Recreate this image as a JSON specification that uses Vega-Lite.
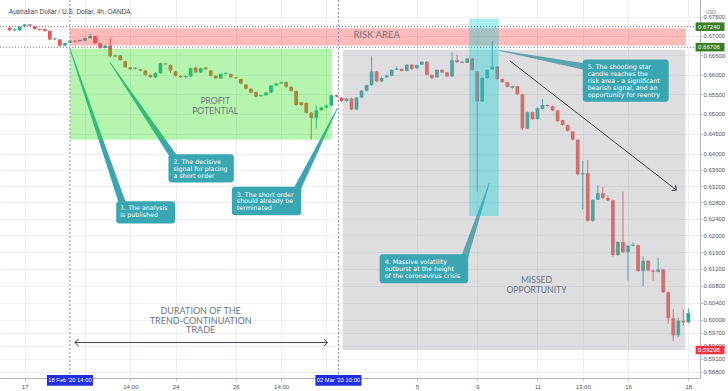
{
"$schema":"https://vega.github.io/schema/vega-lite/v6.json",
"width":700,"height":378,
"autosize":{"type":"none"},
"padding":{"left":0,"top":0,"right":28,"bottom":13},
"background":"#ffffff",
"config":{"view":{"stroke":null},
 "axis":{"labelFont":"Liberation Sans","labelFontSize":6,"labelColor":"#50535e","tickSize":2,"tickColor":"#b2b5be","domainColor":"#b2b5be","gridColor":"#eceff5","grid":true,"labelFlush":false,"labelOverlap":false}},
"datasets":{
"candles":[
{"i":-3,"o":0.67214,"h":0.67248,"l":0.67121,"c":0.67145},
{"i":-2,"o":0.67145,"h":0.67196,"l":0.67121,"c":0.67171},
{"i":-1,"o":0.67145,"h":0.67259,"l":0.67132,"c":0.67233},
{"i":0,"o":0.67247,"h":0.67312,"l":0.67237,"c":0.67297},
{"i":1,"o":0.67297,"h":0.67312,"l":0.67248,"c":0.67264},
{"i":2,"o":0.67247,"h":0.6727,"l":0.67163,"c":0.67178},
{"i":3,"o":0.67178,"h":0.67196,"l":0.67141,"c":0.67153},
{"i":4,"o":0.67174,"h":0.67196,"l":0.6711,"c":0.67128},
{"i":5,"o":0.67128,"h":0.67141,"l":0.66886,"c":0.66908},
{"i":6,"o":0.66908,"h":0.6695,"l":0.66886,"c":0.66933},
{"i":7,"o":0.66907,"h":0.66917,"l":0.66717,"c":0.66747},
{"i":8,"o":0.66747,"h":0.66823,"l":0.66728,"c":0.66808},
{"i":9,"o":0.66823,"h":0.66897,"l":0.66812,"c":0.66873},
{"i":10,"o":0.66873,"h":0.66886,"l":0.66833,"c":0.66848},
{"i":11,"o":0.66865,"h":0.66907,"l":0.66855,"c":0.66891},
{"i":12,"o":0.66873,"h":0.6696,"l":0.66865,"c":0.66941},
{"i":13,"o":0.66941,"h":0.6706,"l":0.66929,"c":0.66992},
{"i":14,"o":0.66992,"h":0.67003,"l":0.66791,"c":0.66808},
{"i":15,"o":0.66808,"h":0.66823,"l":0.66663,"c":0.66688},
{"i":16,"o":0.66688,"h":0.66759,"l":0.66674,"c":0.66747},
{"i":17,"o":0.66747,"h":0.66957,"l":0.66442,"c":0.66469},
{"i":18,"o":0.66469,"h":0.66511,"l":0.66452,"c":0.66495},
{"i":19,"o":0.66495,"h":0.66506,"l":0.66358,"c":0.66369},
{"i":20,"o":0.66345,"h":0.66358,"l":0.6617,"c":0.66186},
{"i":21,"o":0.66186,"h":0.66201,"l":0.66117,"c":0.66136},
{"i":22,"o":0.66149,"h":0.6619,"l":0.66128,"c":0.66175},
{"i":23,"o":0.66136,"h":0.66149,"l":0.66086,"c":0.66104},
{"i":24,"o":0.66104,"h":0.66117,"l":0.6597,"c":0.65993},
{"i":25,"o":0.65993,"h":0.66001,"l":0.65908,"c":0.65936},
{"i":26,"o":0.65929,"h":0.66054,"l":0.65908,"c":0.66036},
{"i":27,"o":0.66036,"h":0.66306,"l":0.66023,"c":0.66287},
{"i":28,"o":0.66287,"h":0.66306,"l":0.66243,"c":0.66261},
{"i":29,"o":0.66244,"h":0.66264,"l":0.66044,"c":0.66104},
{"i":30,"o":0.66079,"h":0.66096,"l":0.6595,"c":0.65968},
{"i":31,"o":0.65968,"h":0.6598,"l":0.65908,"c":0.65936},
{"i":32,"o":0.65939,"h":0.6598,"l":0.65897,"c":0.65965},
{"i":33,"o":0.65954,"h":0.6618,"l":0.65939,"c":0.66161},
{"i":34,"o":0.66179,"h":0.66201,"l":0.66044,"c":0.66054},
{"i":35,"o":0.66054,"h":0.6618,"l":0.66044,"c":0.66161},
{"i":36,"o":0.66179,"h":0.66201,"l":0.66117,"c":0.66136},
{"i":37,"o":0.66104,"h":0.66117,"l":0.6595,"c":0.65968},
{"i":38,"o":0.65968,"h":0.6598,"l":0.65887,"c":0.65904},
{"i":39,"o":0.65904,"h":0.66033,"l":0.65887,"c":0.66018},
{"i":40,"o":0.66018,"h":0.66054,"l":0.66002,"c":0.66044},
{"i":41,"o":0.66011,"h":0.66023,"l":0.65908,"c":0.65929},
{"i":42,"o":0.65929,"h":0.65939,"l":0.65887,"c":0.65904},
{"i":43,"o":0.65887,"h":0.65898,"l":0.65751,"c":0.6577},
{"i":44,"o":0.65745,"h":0.65761,"l":0.65616,"c":0.65638},
{"i":45,"o":0.65638,"h":0.65647,"l":0.65522,"c":0.65539},
{"i":46,"o":0.65555,"h":0.65563,"l":0.65418,"c":0.65439},
{"i":47,"o":0.65449,"h":0.65491,"l":0.65429,"c":0.65475},
{"i":48,"o":0.65471,"h":0.65553,"l":0.6546,"c":0.65539},
{"i":49,"o":0.65539,"h":0.6573,"l":0.65522,"c":0.6572},
{"i":50,"o":0.6572,"h":0.65782,"l":0.6571,"c":0.6577},
{"i":51,"o":0.6577,"h":0.65824,"l":0.65762,"c":0.65804},
{"i":52,"o":0.65804,"h":0.65824,"l":0.65668,"c":0.65687},
{"i":53,"o":0.65687,"h":0.65698,"l":0.65563,"c":0.6558},
{"i":54,"o":0.6558,"h":0.65594,"l":0.65201,"c":0.65224},
{"i":55,"o":0.65291,"h":0.65304,"l":0.65201,"c":0.65224},
{"i":56,"o":0.65274,"h":0.65294,"l":0.65005,"c":0.65027},
{"i":57,"o":0.65027,"h":0.65046,"l":0.64351,"c":0.64897},
{"i":58,"o":0.64897,"h":0.65212,"l":0.64634,"c":0.65087},
{"i":59,"o":0.65094,"h":0.6518,"l":0.65077,"c":0.6516},
{"i":60,"o":0.6516,"h":0.65232,"l":0.6514,"c":0.6521},
{"i":61,"o":0.6521,"h":0.6548,"l":0.65191,"c":0.65471},
{"i":62,"o":0.65471,"h":0.65491,"l":0.65418,"c":0.65439},
{"i":63,"o":0.65407,"h":0.65418,"l":0.65304,"c":0.65323},
{"i":64,"o":0.65323,"h":0.65408,"l":0.65304,"c":0.65389},
{"i":65,"o":0.65389,"h":0.65408,"l":0.65088,"c":0.65111},
{"i":66,"o":0.65111,"h":0.65428,"l":0.65098,"c":0.65414},
{"i":67,"o":0.65414,"h":0.65605,"l":0.65398,"c":0.65587},
{"i":68,"o":0.65587,"h":0.65741,"l":0.65574,"c":0.65729},
{"i":69,"o":0.65729,"h":0.66469,"l":0.6571,"c":0.66079},
{"i":70,"o":0.66079,"h":0.66096,"l":0.65803,"c":0.65829},
{"i":71,"o":0.65829,"h":0.6595,"l":0.65803,"c":0.65912},
{"i":72,"o":0.65929,"h":0.66001,"l":0.65908,"c":0.65978},
{"i":73,"o":0.65968,"h":0.66138,"l":0.6595,"c":0.66119},
{"i":74,"o":0.66127,"h":0.66212,"l":0.66117,"c":0.66154},
{"i":75,"o":0.66145,"h":0.6616,"l":0.66075,"c":0.66094},
{"i":76,"o":0.66094,"h":0.66274,"l":0.66075,"c":0.66254},
{"i":77,"o":0.66254,"h":0.66274,"l":0.66117,"c":0.66145},
{"i":78,"o":0.66161,"h":0.66253,"l":0.66149,"c":0.66244},
{"i":79,"o":0.66254,"h":0.66348,"l":0.66243,"c":0.66329},
{"i":80,"o":0.66329,"h":0.66348,"l":0.65981,"c":0.65993},
{"i":81,"o":0.65993,"h":0.66001,"l":0.65887,"c":0.65912},
{"i":82,"o":0.65929,"h":0.66138,"l":0.65908,"c":0.66119},
{"i":83,"o":0.66119,"h":0.66138,"l":0.66033,"c":0.66054},
{"i":84,"o":0.66054,"h":0.66064,"l":0.65929,"c":0.65954},
{"i":85,"o":0.65954,"h":0.6658,"l":0.65939,"c":0.66369},
{"i":86,"o":0.66369,"h":0.66516,"l":0.66296,"c":0.6632},
{"i":87,"o":0.66305,"h":0.66348,"l":0.66286,"c":0.6633},
{"i":88,"o":0.66305,"h":0.66431,"l":0.66296,"c":0.66411},
{"i":89,"o":0.66411,"h":0.66431,"l":0.66096,"c":0.66119},
{"i":90,"o":0.66079,"h":0.66096,"l":0.63064,"c":0.65316},
{"i":91,"o":0.65316,"h":0.65939,"l":0.65294,"c":0.65912},
{"i":92,"o":0.65912,"h":0.66138,"l":0.65887,"c":0.66119},
{"i":93,"o":0.66136,"h":0.66858,"l":0.66117,"c":0.66204},
{"i":94,"o":0.66204,"h":0.66221,"l":0.65866,"c":0.65887},
{"i":95,"o":0.65887,"h":0.65898,"l":0.65783,"c":0.65805},
{"i":96,"o":0.65805,"h":0.65814,"l":0.65668,"c":0.65687},
{"i":97,"o":0.65662,"h":0.6572,"l":0.65636,"c":0.65704},
{"i":98,"o":0.65704,"h":0.6572,"l":0.6548,"c":0.65495},
{"i":99,"o":0.65495,"h":0.6551,"l":0.64594,"c":0.64634},
{"i":100,"o":0.64634,"h":0.65057,"l":0.64615,"c":0.65044},
{"i":101,"o":0.65044,"h":0.65057,"l":0.64841,"c":0.64865},
{"i":102,"o":0.64865,"h":0.6516,"l":0.64851,"c":0.65144},
{"i":103,"o":0.65126,"h":0.65377,"l":0.65109,"c":0.65224},
{"i":104,"o":0.65224,"h":0.65242,"l":0.6518,"c":0.65199},
{"i":105,"o":0.65192,"h":0.65212,"l":0.65067,"c":0.65087},
{"i":106,"o":0.65087,"h":0.65098,"l":0.648,"c":0.64816},
{"i":107,"o":0.64841,"h":0.64851,"l":0.64698,"c":0.64719},
{"i":108,"o":0.64719,"h":0.64728,"l":0.64554,"c":0.64574},
{"i":109,"o":0.64555,"h":0.64564,"l":0.64328,"c":0.64351},
{"i":110,"o":0.64351,"h":0.64358,"l":0.63468,"c":0.63488},
{"i":111,"o":0.63488,"h":0.63826,"l":0.62629,"c":0.63519},
{"i":112,"o":0.63519,"h":0.63842,"l":0.6233,"c":0.62352},
{"i":113,"o":0.62352,"h":0.62876,"l":0.6233,"c":0.62866},
{"i":114,"o":0.62866,"h":0.63224,"l":0.62856,"c":0.63026},
{"i":115,"o":0.63026,"h":0.63176,"l":0.62886,"c":0.62906},
{"i":116,"o":0.62906,"h":0.62976,"l":0.62827,"c":0.6285},
{"i":117,"o":0.6285,"h":0.62866,"l":0.61495,"c":0.6153},
{"i":118,"o":0.6153,"h":0.61858,"l":0.61505,"c":0.61844},
{"i":119,"o":0.61844,"h":0.63064,"l":0.61573,"c":0.61594},
{"i":120,"o":0.61594,"h":0.6177,"l":0.60923,"c":0.61751},
{"i":121,"o":0.61751,"h":0.61838,"l":0.6173,"c":0.61775},
{"i":122,"o":0.61765,"h":0.6178,"l":0.61127,"c":0.61146},
{"i":123,"o":0.61146,"h":0.61497,"l":0.60785,"c":0.61392},
{"i":124,"o":0.61392,"h":0.61409,"l":0.61136,"c":0.6116},
{"i":125,"o":0.6116,"h":0.61176,"l":0.60914,"c":0.6113},
{"i":126,"o":0.6113,"h":0.61456,"l":0.61117,"c":0.61183},
{"i":127,"o":0.61183,"h":0.61195,"l":0.60626,"c":0.60647},
{"i":128,"o":0.60647,"h":0.60665,"l":0.59909,"c":0.60037},
{"i":129,"o":0.60037,"h":0.60242,"l":0.5951,"c":0.59637},
{"i":130,"o":0.59637,"h":0.60052,"l":0.59595,"c":0.59978},
{"i":131,"o":0.59978,"h":0.60242,"l":0.59861,"c":0.59939},
{"i":132,"o":0.59939,"h":0.60264,"l":0.59918,"c":0.60151}
],
"zones":[
{"zone":"risk","i1":9,"i2":131.5,"p1":0.67196,"p2":0.66747},
{"zone":"profit","i1":9,"i2":61.1,"p1":0.66664,"p2":0.64351},
{"zone":"missed","i1":63.3,"i2":131.4,"p1":0.66638,"p2":0.59298},
{"zone":"spike","i1":88.4,"i2":94.3,"p1":0.6745,"p2":0.6247}
],
"hlines":[{"p":0.6724},{"p":0.66706}],
"vlines":[{"i":9},{"i":62.4}],
"arrows":[
{"g":"dur","i":10.0,"p":0.59471},{"g":"dur","i":60.2,"p":0.59471},
{"g":"trend","i":96.5,"p":0.66354},{"g":"trend","i":129.6,"p":0.63105}
],
"heads":[
{"g":"left","i":10.0,"p":0.59471},{"g":"right","i":60.2,"p":0.59471},{"g":"trend","i":129.6,"p":0.63105}
],
"pointers":[
{"k":1,"end":"tip","i":9.0,"p":0.66664},{"k":1,"end":"base","i":19.6,"p":0.62723},
{"k":2,"end":"tip","i":17.0,"p":0.66304},{"k":2,"end":"base","i":29.8,"p":0.63897},
{"k":3,"end":"tip","i":62.2,"p":0.65143},{"k":3,"end":"base","i":54.1,"p":0.63105},
{"k":4,"end":"tip","i":92.4,"p":0.63265},{"k":4,"end":"base","i":87.5,"p":0.61478},
{"k":5,"end":"tip","i":94.4,"p":0.6662},{"k":5,"end":"base","i":112.2,"p":0.66186}
],
"notes":[
{"k":1,"i1":18.2,"i2":29.9,"p1":0.62826,"p2":0.6229,"ti":19.0,"tp":0.62735,"t":"1. The analysis\nis published"},
{"k":2,"i1":28.6,"i2":41.6,"p1":0.63987,"p2":0.63289,"ti":29.6,"tp":0.63866,"t":"2. The decisive\nsignal for placing\na short order"},
{"k":3,"i1":41.2,"i2":55.0,"p1":0.63184,"p2":0.62487,"ti":42.2,"tp":0.63064,"t":"3. The short order\nshould already be\nterminated"},
{"k":4,"i1":70.6,"i2":88.2,"p1":0.61548,"p2":0.6086,"ti":71.6,"tp":0.61432,"t":"4. Massive volatility\noutburst at the height\nof the coronavirus crisis"},
{"k":5,"i1":111.0,"i2":128.1,"p1":0.66387,"p2":0.65308,"ti":112.0,"tp":0.66261,"t":"5. The shooting star\ncandle reaches the\nrisk area - a significant\nbearish signal, and an\nopportunity for reentry"}
],
"labels":[
{"grp":"a","t":"RISK AREA","i":70,"p":0.67018},
{"grp":"b","t":"PROFIT\nPOTENTIAL","i":37.9,"p":0.65429},
{"grp":"b","t":"MISSED\nOPPORTUNITY","i":101.8,"p":0.61029},
{"grp":"c","t":"DURATION OF THE\nTREND-CONTINUATION\nTRADE","i":35,"p":0.603}
],
"ptags":[{"p":0.6724,"t":"0.67240","c":"g"},{"p":0.66706,"t":"0.66706","c":"g"},{"p":0.59298,"t":"0.59298","c":"r"}],
"dtags":[{"i":9,"t":"18 Feb '20   14:00"},{"i":62.4,"t":"02 Mar '20   10:00"}],
"meta":[{"t":"Australian Dollar / U.S. Dollar, 4h, OANDA","i":-3.15,"p":0.67629}],
"unit":[{"t":"USD","i":135.4,"p":0.67629}]
},
"layer":[
{"data":{"name":"candles"},"mark":{"type":"rule","strokeWidth":1},
 "encoding":{
  "x":{"field":"i","type":"quantitative","title":null,"scale":{"domain":[-3.92,133.33],"nice":false,"zero":false},
   "axis":{"orient":"bottom","title":null,"values":[0,12,21,30,42,51,60,78,90,102,111,120,132],
    "labelExpr":"datum.value==0?'17':datum.value==21?'14:00':datum.value==30?'24':datum.value==42?'26':datum.value==51?'14:00':datum.value==78?'5':datum.value==90?'9':datum.value==102?'11':datum.value==111?'13:00':datum.value==120?'16':datum.value==132?'18':''",
    "labelPadding":3,"labelOverlap":false,"labelFlush":false}},
  "y":{"field":"l","type":"quantitative","title":null,"scale":{"type":"log","domain":[0.58771,0.67809],"nice":false},
   "axis":{"orient":"right","title":null,"values":[0.675,0.67,0.665,0.66,0.655,0.65,0.645,0.64,0.636,0.632,0.628,0.624,0.62,0.616,0.612,0.608,0.604,0.6,0.597,0.594,0.591,0.588],
    "format":".5f","labelPadding":1,"labelOverlap":false,"labelFlush":false}},
  "y2":{"field":"h"},
  "color":{"condition":{"test":"datum.c>=datum.o","value":"#26a69a"},"value":"#ef5350"}
 }},
{"data":{"name":"candles"},"mark":{"type":"bar","size":3.7,"orient":"vertical"},
 "encoding":{
  "x":{"field":"i","type":"quantitative","title":null,"scale":{"domain":[-3.92,133.33],"nice":false,"zero":false}},
  "y":{"field":"o","type":"quantitative","title":null,"scale":{"type":"log","domain":[0.58771,0.67809],"nice":false}},
  "y2":{"field":"c"},
  "color":{"condition":{"test":"datum.c>=datum.o","value":"#26a69a"},"value":"#ef5350"}
 }},
{"data":{"name":"pointers"},"mark":{"type":"trail","color":"#3aa6b2"},
 "encoding":{
  "x":{"field":"i","type":"quantitative","title":null,"scale":{"domain":[-3.92,133.33],"nice":false,"zero":false}},
  "y":{"field":"p","type":"quantitative","title":null,"scale":{"type":"log","domain":[0.58771,0.67809],"nice":false}},
  "detail":{"field":"k"},
  "order":{"field":"end"},
  "size":{"field":"end","type":"ordinal","scale":{"domain":["tip","base"],"range":[0.8,7]},"legend":null}
 }},
{"data":{"name":"zones"},"mark":{"type":"rect","opacity":0.35},
 "encoding":{
  "x":{"field":"i1","type":"quantitative","title":null,"scale":{"domain":[-3.92,133.33],"nice":false,"zero":false}},
  "x2":{"field":"i2"},
  "y":{"field":"p1","type":"quantitative","title":null,"scale":{"type":"log","domain":[0.58771,0.67809],"nice":false}},
  "y2":{"field":"p2"},
  "color":{"field":"zone","type":"nominal","scale":{"domain":["risk","profit","missed","spike"],"range":["#ff3a3a","#2ce215","#a1a1a6","#01ced4"]},"legend":null}
 }},
{"data":{"name":"hlines"},"mark":{"type":"rule","color":"#6a6d78","strokeDash":[1,2],"strokeWidth":1},
 "encoding":{
  "y":{"field":"p","type":"quantitative","title":null,"scale":{"type":"log","domain":[0.58771,0.67809],"nice":false}}
 }},
{"data":{"name":"vlines"},"mark":{"type":"rule","color":"#8f8fd0","strokeDash":[2,2],"strokeWidth":1},
 "encoding":{
  "x":{"field":"i","type":"quantitative","title":null,"scale":{"domain":[-3.92,133.33],"nice":false,"zero":false}}
 }},
{"data":{"name":"arrows"},"mark":{"type":"line","color":"#2a2e39","strokeWidth":0.9},
 "encoding":{
  "x":{"field":"i","type":"quantitative","title":null,"scale":{"domain":[-3.92,133.33],"nice":false,"zero":false}},
  "y":{"field":"p","type":"quantitative","title":null,"scale":{"type":"log","domain":[0.58771,0.67809],"nice":false}},
  "detail":{"field":"g"}
 }},
{"data":{"name":"heads"},"transform":[{"filter":"datum.g=='left'"}],
 "mark":{"type":"point","shape":"M1,-1L0,0L1,1","filled":false,"stroke":"#2a2e39","strokeWidth":1,"size":45,"opacity":1},
 "encoding":{
  "x":{"field":"i","type":"quantitative","title":null,"scale":{"domain":[-3.92,133.33],"nice":false,"zero":false}},
  "y":{"field":"p","type":"quantitative","title":null,"scale":{"type":"log","domain":[0.58771,0.67809],"nice":false}}
 }},
{"data":{"name":"heads"},"transform":[{"filter":"datum.g=='right'"}],
 "mark":{"type":"point","shape":"M-1,-1L0,0L-1,1","filled":false,"stroke":"#2a2e39","strokeWidth":1,"size":45,"opacity":1},
 "encoding":{
  "x":{"field":"i","type":"quantitative","title":null,"scale":{"domain":[-3.92,133.33],"nice":false,"zero":false}},
  "y":{"field":"p","type":"quantitative","title":null,"scale":{"type":"log","domain":[0.58771,0.67809],"nice":false}}
 }},
{"data":{"name":"heads"},"transform":[{"filter":"datum.g=='trend'"}],
 "mark":{"type":"point","shape":"M-1,-1L0,0L-1,1","filled":false,"stroke":"#2a2e39","strokeWidth":1,"size":45,"angle":38,"opacity":1},
 "encoding":{
  "x":{"field":"i","type":"quantitative","title":null,"scale":{"domain":[-3.92,133.33],"nice":false,"zero":false}},
  "y":{"field":"p","type":"quantitative","title":null,"scale":{"type":"log","domain":[0.58771,0.67809],"nice":false}}
 }},
{"data":{"name":"notes"},"mark":{"type":"rect","color":"#3aa6b2","cornerRadius":3},
 "encoding":{
  "x":{"field":"i1","type":"quantitative","title":null,"scale":{"domain":[-3.92,133.33],"nice":false,"zero":false}},
  "x2":{"field":"i2"},
  "y":{"field":"p1","type":"quantitative","title":null,"scale":{"type":"log","domain":[0.58771,0.67809],"nice":false}},
  "y2":{"field":"p2"}
 }},
{"data":{"name":"notes"},"mark":{"type":"text","color":"#ffffff","font":"DejaVu Sans","fontSize":6.3,"align":"left","baseline":"top","lineBreak":"\n","lineHeight":6.8},
 "encoding":{
  "x":{"field":"ti","type":"quantitative","title":null,"scale":{"domain":[-3.92,133.33],"nice":false,"zero":false}},
  "y":{"field":"tp","type":"quantitative","title":null,"scale":{"type":"log","domain":[0.58771,0.67809],"nice":false}},
  "text":{"field":"t"}
 }},
{"data":{"name":"labels"},"transform":[{"filter":"datum.grp=='a'"}],
 "mark":{"type":"text","color":"#6f7480","font":"Lato","fontSize":9.5,"align":"center","baseline":"middle"},
 "encoding":{
  "x":{"field":"i","type":"quantitative","title":null,"scale":{"domain":[-3.92,133.33],"nice":false,"zero":false}},
  "y":{"field":"p","type":"quantitative","title":null,"scale":{"type":"log","domain":[0.58771,0.67809],"nice":false}},
  "text":{"field":"t"}
 }},
{"data":{"name":"labels"},"transform":[{"filter":"datum.grp=='b'"}],
 "mark":{"type":"text","color":"#6f7480","font":"Lato","fontSize":8.6,"align":"center","baseline":"top","lineBreak":"\n","lineHeight":10},
 "encoding":{
  "x":{"field":"i","type":"quantitative","title":null,"scale":{"domain":[-3.92,133.33],"nice":false,"zero":false}},
  "y":{"field":"p","type":"quantitative","title":null,"scale":{"type":"log","domain":[0.58771,0.67809],"nice":false}},
  "text":{"field":"t"}
 }},
{"data":{"name":"labels"},"transform":[{"filter":"datum.grp=='c'"}],
 "mark":{"type":"text","color":"#6f7480","font":"Lato","fontSize":9,"align":"center","baseline":"top","lineBreak":"\n","lineHeight":9.6},
 "encoding":{
  "x":{"field":"i","type":"quantitative","title":null,"scale":{"domain":[-3.92,133.33],"nice":false,"zero":false}},
  "y":{"field":"p","type":"quantitative","title":null,"scale":{"type":"log","domain":[0.58771,0.67809],"nice":false}},
  "text":{"field":"t"}
 }},
{"data":{"name":"ptags"},"mark":{"type":"bar","orient":"horizontal","size":8.5},
 "encoding":{
  "y":{"field":"p","type":"quantitative","title":null,"scale":{"type":"log","domain":[0.58771,0.67809],"nice":false}},
  "x":{"datum":133.45,"type":"quantitative","title":null,"scale":{"domain":[-3.92,133.33],"nice":false,"zero":false}},
  "x2":{"datum":139.2},
  "color":{"condition":{"test":"datum.c=='g'","value":"#3a7d22"},"value":"#f23645"}
 }},
{"data":{"name":"ptags"},"mark":{"type":"text","color":"#ffffff","font":"Liberation Sans","fontSize":6,"align":"left","baseline":"middle"},
 "encoding":{
  "y":{"field":"p","type":"quantitative","title":null,"scale":{"type":"log","domain":[0.58771,0.67809],"nice":false}},
  "x":{"datum":133.95,"type":"quantitative","title":null,"scale":{"domain":[-3.92,133.33],"nice":false,"zero":false}},
  "text":{"field":"t"}
 }},
{"data":{"name":"dtags"},"mark":{"type":"bar","orient":"vertical","size":46,"color":"#1f2ee0"},
 "encoding":{
  "x":{"field":"i","type":"quantitative","title":null,"scale":{"domain":[-3.92,133.33],"nice":false,"zero":false}},
  "y":{"datum":0.58727,"type":"quantitative","title":null,"scale":{"type":"log","domain":[0.58771,0.67809],"nice":false}},
  "y2":{"datum":0.58483}
 }},
{"data":{"name":"dtags"},"mark":{"type":"text","color":"#ffffff","font":"Liberation Sans","fontSize":5.8,"align":"center","baseline":"middle"},
 "encoding":{
  "x":{"field":"i","type":"quantitative","title":null,"scale":{"domain":[-3.92,133.33],"nice":false,"zero":false}},
  "y":{"datum":0.58604,"type":"quantitative","title":null,"scale":{"type":"log","domain":[0.58771,0.67809],"nice":false}},
  "text":{"field":"t"}
 }},
{"data":{"name":"meta"},"mark":{"type":"text","color":"#434651","font":"Liberation Sans","fontSize":6.5,"align":"left","baseline":"middle"},
 "encoding":{
  "x":{"field":"i","type":"quantitative","title":null,"scale":{"domain":[-3.92,133.33],"nice":false,"zero":false}},
  "y":{"field":"p","type":"quantitative","title":null,"scale":{"type":"log","domain":[0.58771,0.67809],"nice":false}},
  "text":{"field":"t"}
 }},
{"data":{"name":"unit"},"mark":{"type":"text","color":"#787b86","font":"Liberation Sans","fontSize":5,"align":"left","baseline":"middle"},
 "encoding":{
  "x":{"field":"i","type":"quantitative","title":null,"scale":{"domain":[-3.92,133.33],"nice":false,"zero":false}},
  "y":{"field":"p","type":"quantitative","title":null,"scale":{"type":"log","domain":[0.58771,0.67809],"nice":false}},
  "text":{"field":"t"}
 }}
]
}
